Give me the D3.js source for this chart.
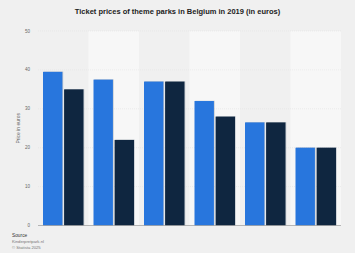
<!DOCTYPE html>
<html>
<head>
<meta charset="utf-8">
<script src="https://cdn.jsdelivr.net/npm/d3@7"></script>
<style>
body { margin:0; background:#f0f0f0; }
svg { font-family: "Liberation Sans", Arial, sans-serif; }
</style>
</head>
<body>
<svg id="chart" width="355" height="253"></svg>
<script>
var parks = ["Park 1", "Park 2", "Park 3", "Park 4", "Park 5", "Park 6"];
var seriesNames = ["Adult", "Child"];
var adult = [39.5, 37.5, 37, 32, 26.5, 20];
var child = [35, 22, 37, 28, 26.5, 20];
var yTicks = [0, 10, 20, 30, 40, 50];
var colors = ["#2876dd", "#0f2640"];

var svg = d3.select("#chart");
svg.append("rect").attr("width", 355).attr("height", 253).attr("fill", "#f0f0f0");

var plotLeft = 38, plotRight = 341, plotTop = 31, plotBottom = 225.5;

var x0 = d3.scaleBand().domain(parks).range([plotLeft, plotRight]).padding(0);
var x1 = d3.scaleBand().domain(seriesNames).range([5, x0.bandwidth() - 5]).paddingInner(0.08);
var y = d3.scaleLinear().domain([0, 50]).range([plotBottom, plotTop]);

// alternating column bands
svg.selectAll("rect.band")
  .data(parks)
  .enter().append("rect")
  .attr("class", "band")
  .attr("x", function(d) { return x0(d); })
  .attr("y", plotTop)
  .attr("width", x0.bandwidth())
  .attr("height", plotBottom - plotTop)
  .attr("fill", function(d, i) { return i % 2 ? "#f7f7f7" : "#f0f0f0"; });

// gridlines
svg.selectAll("line.grid")
  .data(yTicks.slice(1))
  .enter().append("line")
  .attr("x1", plotLeft).attr("x2", plotRight)
  .attr("y1", function(d) { return y(d); })
  .attr("y2", function(d) { return y(d); })
  .attr("stroke", "#e2e2e2")
  .attr("stroke-width", 0.6)
  .attr("stroke-dasharray", "1,1");

// y axis labels
svg.selectAll("text.tick")
  .data(yTicks)
  .enter().append("text")
  .attr("x", 30)
  .attr("y", function(d) { return y(d) + 1.5; })
  .attr("text-anchor", "end")
  .attr("font-size", 4.5)
  .attr("fill", "#666")
  .text(function(d) { return d; });

var rows = parks.map(function(p, i) { return { park: p, values: [adult[i], child[i]] }; });

var groups = svg.selectAll("g.park")
  .data(rows)
  .enter().append("g")
  .attr("transform", function(d) { return "translate(" + x0(d.park) + ",0)"; });

function barData(d) {
  return d.values.map(function(v, k) { return { s: seriesNames[k], v: v, k: k }; });
}

// faint shadow
groups.selectAll("rect.shadow")
  .data(barData)
  .enter().append("rect")
  .attr("x", function(d) { return x1(d.s) + 0.8; })
  .attr("y", function(d) { return y(d.v) - 0.3; })
  .attr("width", x1.bandwidth())
  .attr("height", function(d) { return plotBottom - y(d.v) + 0.3; })
  .attr("fill", "#9aa4b0")
  .attr("opacity", 0.5);

groups.selectAll("rect.bar")
  .data(barData)
  .enter().append("rect")
  .attr("class", "bar")
  .attr("x", function(d) { return x1(d.s); })
  .attr("y", function(d) { return y(d.v); })
  .attr("width", x1.bandwidth())
  .attr("height", function(d) { return plotBottom - y(d.v); })
  .attr("fill", function(d) { return colors[d.k]; });

// baseline
svg.append("line")
  .attr("x1", plotLeft).attr("x2", plotRight)
  .attr("y1", plotBottom).attr("y2", plotBottom)
  .attr("stroke", "#9a9a9a").attr("stroke-width", 0.7);

// y axis title
svg.append("text")
  .attr("transform", "translate(20," + ((plotTop + plotBottom) / 2) + ") rotate(-90)")
  .attr("text-anchor", "middle")
  .attr("font-size", 5)
  .attr("fill", "#666")
  .text("Price in euros");

// title
svg.append("text")
  .attr("x", 177.5).attr("y", 14)
  .attr("text-anchor", "middle")
  .attr("font-size", 7.5)
  .attr("font-weight", "bold")
  .attr("fill", "#222")
  .text("Ticket prices of theme parks in Belgium in 2019 (in euros)");

// source
svg.append("text").attr("x", 12).attr("y", 237).attr("font-size", 4.8).attr("fill", "#333").text("Source");
svg.append("text").attr("x", 12).attr("y", 243).attr("font-size", 4.2).attr("fill", "#777").text("Kinderpretpark.nl");
svg.append("text").attr("x", 12).attr("y", 249).attr("font-size", 4.2).attr("fill", "#777").text("© Statista 2025");
</script>
</body>
</html>
